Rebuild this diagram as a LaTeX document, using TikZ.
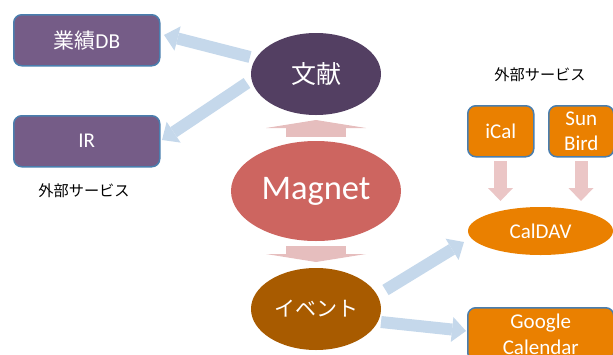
\documentclass[tikz,border=0pt]{standalone}
\usepackage{fontspec}
\setmainfont{Carlito}
\newfontfamily\cjk{Noto Sans CJK JP}
\usetikzlibrary{arrows.meta,shapes.geometric}
\definecolor{purplebox}{HTML}{755C87}
\definecolor{boxline}{HTML}{4A7EAE}
\definecolor{paper}{HTML}{533F62}
\definecolor{magnetc}{HTML}{CD6560}
\definecolor{eventc}{HTML}{A85B00}
\definecolor{orangec}{HTML}{EA8000}
\definecolor{bluearrow}{HTML}{C5D8EB}
\definecolor{pinkarrow}{HTML}{E6BEBE}
\definecolor{pinkdown}{HTML}{EBC6C6}
\tikzset{
  x=1pt,y=-1pt,
  roundbox/.style={draw=boxline,line width=1.5pt,rounded corners=8pt,text=white,inner sep=0pt,anchor=north west,align=center},
  svc/.style={roundbox,fill=orangec,font=\fontsize{21}{25.5}\selectfont},
  dbbox/.style={roundbox,fill=purplebox,minimum width=146pt,minimum height=51pt},
  oval/.style={ellipse,draw=none,inner sep=0pt,text=white,align=center},
  bluehead/.style={line width=12pt,draw=bluearrow,-{Triangle[length=14pt,width=25pt,line width=0pt]}},
  pinkwide/.style={line width=60pt,draw=pinkarrow,-{Triangle[length=8pt,width=100pt,line width=0pt]}},
  pinkthin/.style={line width=13pt,draw=pinkdown,-{Triangle[length=13pt,width=25pt,line width=0pt]}},
  extlabel/.style={font=\cjk\fontsize{15.2}{18}\selectfont,text=black,inner sep=0pt}
}
\begin{document}
\begin{tikzpicture}
\useasboundingbox (0,0) rectangle (613,354);
\clip (0,0) rectangle (613,354);
% nodes
\node[dbbox,font=\fontsize{21.3}{25}\selectfont] (db) at (13,14) {{\cjk\fontsize{21}{25}\selectfont 業績}DB};
\node[dbbox,font=\fontsize{21}{25}\selectfont] (ir) at (13,115) {IR};
\node[extlabel] (ext1) at (84,191) {外部サービス};
\node[oval,fill=paper,minimum width=130pt,minimum height=82pt,font=\cjk\fontsize{25}{30}\selectfont] (bunken) at (316,74) {\raisebox{-1.5pt}{文献}};
\node[oval,fill=magnetc,minimum width=170pt,minimum height=100pt,font=\fontsize{34.5}{40}\selectfont] (magnet) at (316,191) {\raisebox{-3pt}{Magnet}};
\node[oval,fill=eventc,minimum width=130pt,minimum height=82pt,font=\cjk\fontsize{21}{26}\selectfont] (event) at (316,309) {\raisebox{-1pt}{イベント}};
\node[extlabel] (ext2) at (540,74.5) {外部サービス};
\node[svc,minimum width=66pt,minimum height=51pt] (ical) at (467,105) {\raisebox{-2pt}{iCal}};
\node[svc,minimum width=65pt,minimum height=51pt] (sun) at (548,105) {\raisebox{-1pt}{Sun}\\\raisebox{-1pt}{Bird}};
\node[oval,fill=orangec,minimum width=145pt,minimum height=48pt,font=\fontsize{21}{25}\selectfont] (caldav) at (540.5,231) {\raisebox{-2pt}{CalDAV}};
\node[svc,minimum width=146pt,minimum height=53pt] (google) at (467,307) {\raisebox{-1pt}{Google}\\\raisebox{-1pt}{Calendar}};
% connector ends
\coordinate (a1s) at (250,57); \coordinate (a1e) at (164,35);
\coordinate (a2s) at (247,83); \coordinate (a2e) at (162,140);
\coordinate (a3s) at (316,137); \coordinate (a3e) at (316,120);
\coordinate (a4s) at (316,246); \coordinate (a4e) at (316,262);
\coordinate (a5s) at (500.5,161); \coordinate (a5e) at (500.5,201);
\coordinate (a6s) at (581,161); \coordinate (a6e) at (581,201);
\coordinate (a7s) at (385.5,290); \coordinate (a7e) at (464,242);
\coordinate (a8s) at (381,322); \coordinate (a8e) at (466,331);
% connectors
\draw[bluehead] (a1s) -- (a1e);
\draw[bluehead] (a2s) -- (a2e);
\draw[pinkwide] (a3s) -- (a3e);
\draw[pinkwide] (a4s) -- (a4e);
\draw[pinkthin] (a5s) -- (a5e);
\draw[pinkthin] (a6s) -- (a6e);
\draw[bluehead] (a7s) -- (a7e);
\draw[bluehead] (a8s) -- (a8e);
\end{tikzpicture}
\end{document}
